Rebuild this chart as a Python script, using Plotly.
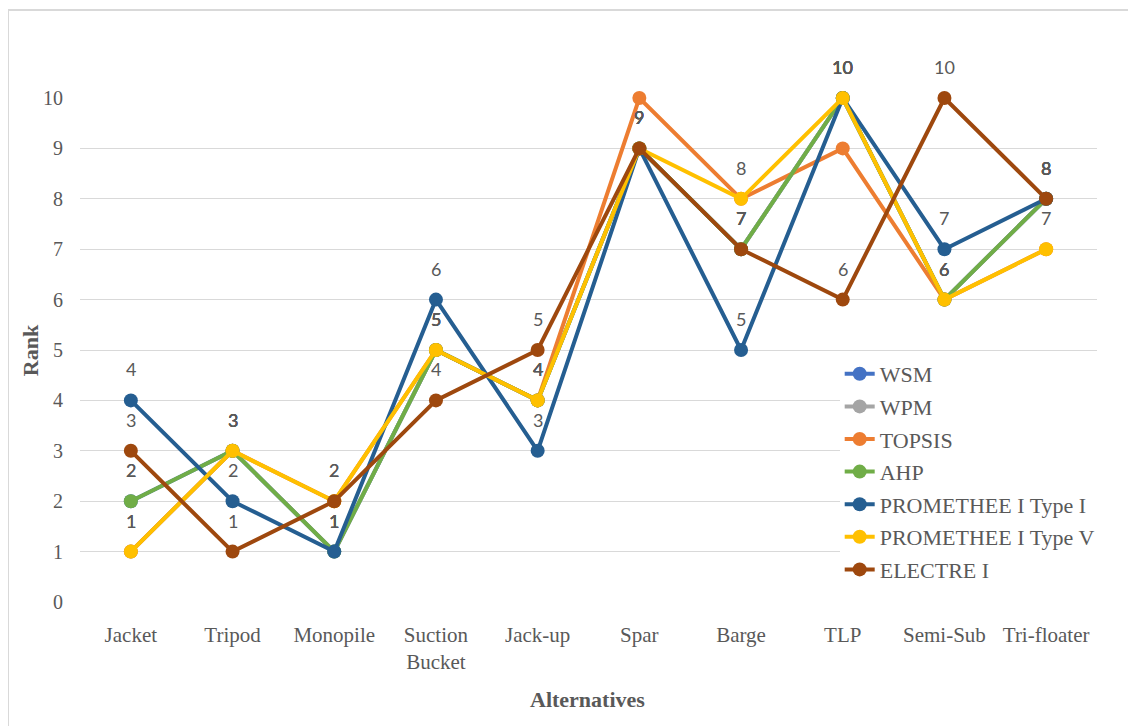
import plotly.graph_objects as go

alternatives = ["Jacket", "Tripod", "Monopile", "Suction<br>Bucket", "Jack-up",
                "Spar", "Barge", "TLP", "Semi-Sub", "Tri-floater"]

wsm = [2, 3, 1, 5, 4, 9, 7, 10, 6, 8]
wpm = [1, 3, 1, 5, 4, 9, 7, 10, 6, 8]
topsis = [1, 3, 2, 5, 4, 10, 8, 9, 6, 7]
ahp = [2, 3, 1, 5, 4, 9, 7, 10, 6, 8]
prom_type1 = [4, 2, 1, 6, 3, 9, 5, 10, 7, 8]
prom_type5 = [1, 3, 2, 5, 4, 9, 8, 10, 6, 7]
electre = [3, 1, 2, 4, 5, 9, 7, 6, 10, 8]

series = [
    ("WSM", wsm, "#4472C4", True),
    ("WPM", wpm, "#A5A5A5", True),
    ("TOPSIS", topsis, "#ED7D31", False),
    ("AHP", ahp, "#70AD47", True),
    ("PROMETHEE I Type I", prom_type1, "#255E91", True),
    ("PROMETHEE I Type V", prom_type5, "#FFC000", True),
    ("ELECTRE I", electre, "#9E480E", True),
]

SERIF = "Liberation Serif"
LABEL_FONT = "Lato"
GREY = "#595959"

fig = go.Figure()
annotations = []
for i, (name, vals, color, labelled) in enumerate(series):
    fig.add_trace(go.Scatter(
        x=alternatives, y=vals, name=name, mode="lines+markers",
        legendgroup=str(i),
        line=dict(color=color, width=4),
        marker=dict(color=color, size=14),
        cliponaxis=False,
    ))
    if labelled:
        for x, v in zip(alternatives, vals):
            annotations.append(dict(
                x=x, y=v, text=str(v), showarrow=False, yshift=31,
                font=dict(family=LABEL_FONT, size=18, color=GREY),
            ))

# axis titles
annotations.append(dict(
    text="<b>Rank</b>", xref="paper", yref="paper", x=-0.049, y=0.5,
    xanchor="center", yanchor="middle",
    textangle=-90, showarrow=False,
    font=dict(family=SERIF, size=22, color=GREY),
))
annotations.append(dict(
    text="<b>Alternatives</b>", xref="paper", yref="paper", x=0.4995, y=-0.194,
    xanchor="center", yanchor="middle",
    showarrow=False,
    font=dict(family=SERIF, size=22, color=GREY),
))

fig.update_layout(
    width=1136, height=726,
    margin=dict(l=72, r=47, t=90, b=132),
    paper_bgcolor="white", plot_bgcolor="white",
    annotations=annotations,
    showlegend=True,
    legend=dict(
        x=0.747, y=0.494, xanchor="left", yanchor="top",
        bgcolor="white", traceorder="grouped", tracegroupgap=1,
        font=dict(family=SERIF, size=22, color=GREY),
    ),
    shapes=[dict(type="rect", xref="paper", yref="paper",
                 x0=-0.0708, x1=1.04, y0=-0.28, y1=1.1746,
                 line=dict(color="#D9D9D9", width=2), fillcolor="rgba(0,0,0,0)")],
)

fig.update_xaxes(
    range=[-0.5, 9.5],
    tickfont=dict(family=SERIF, size=21, color=GREY),
    showgrid=False, showline=False, zeroline=False,
    ticklabelstandoff=18, automargin=False,
)
fig.update_yaxes(
    range=[0, 10], dtick=1,
    tickfont=dict(family=SERIF, size=20, color=GREY),
    gridcolor="#D9D9D9", gridwidth=1.3,
    showline=False, zeroline=False,
    ticks="outside", ticklen=12, tickcolor="rgba(0,0,0,0)",
    automargin=False,
)

fig.write_html("out.html")
